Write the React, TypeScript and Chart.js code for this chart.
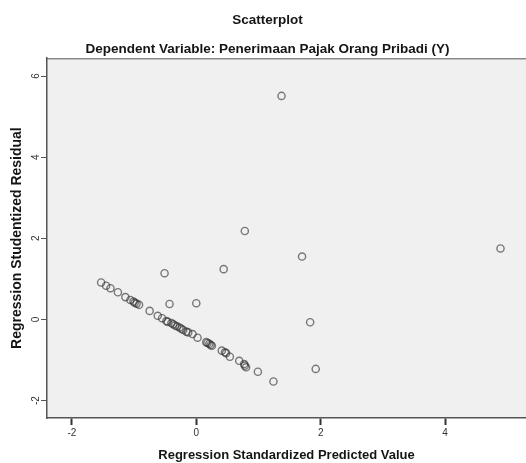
import { useEffect, useRef } from "react";
import { Chart, registerables } from "chart.js";

Chart.register(...registerables);

// Points lying along the diagonal band
const bandPredicted = [-1.53, -1.45, -1.38, -1.26, -1.14, -1.06, -1.01, -0.99, -0.96, -0.92, -0.75, -0.62, -0.55, -0.48, -0.46, -0.40, -0.37, -0.34, -0.31, -0.27, -0.24, -0.21, -0.16, -0.13, -0.06, 0.02, 0.16, 0.18, 0.21, 0.23, 0.25, 0.41, 0.46, 0.48, 0.54, 0.69, 0.77, 0.78, 0.80, 0.99, 1.24];
const bandResidual = [0.91, 0.83, 0.77, 0.67, 0.55, 0.48, 0.44, 0.41, 0.39, 0.36, 0.21, 0.09, 0.03, -0.04, -0.06, -0.09, -0.12, -0.15, -0.17, -0.20, -0.23, -0.26, -0.30, -0.32, -0.36, -0.45, -0.56, -0.58, -0.60, -0.63, -0.65, -0.77, -0.81, -0.83, -0.92, -1.02, -1.10, -1.14, -1.18, -1.29, -1.53];

// Scattered points off the band
const otherPredicted = [1.37, 0.78, 1.70, 0.44, -0.51, -0.43, 0.00, 1.83, 1.92, 4.89];
const otherResidual = [5.51, 2.18, 1.55, 1.24, 1.14, 0.38, 0.40, -0.07, -1.22, 1.75];

const xTickValues = [-2, 0, 2, 4];
const yTickValues = [-2, 0, 2, 4, 6];

const titleText = "Scatterplot";
const subtitleText = "Dependent Variable: Penerimaan Pajak Orang Pribadi (Y)";
const xTitleText = "Regression Standardized Predicted Value";
const yTitleText = "Regression Studentized Residual";

const FONT = "'Liberation Sans', Arial, sans-serif";

const plotBackground = {
  id: "plotBackground",
  beforeDraw(chart: any) {
    const { ctx, chartArea: a } = chart;
    ctx.save();
    ctx.fillStyle = "#f0f0f0";
    ctx.fillRect(a.left, a.top, a.right - a.left, a.bottom - a.top);
    ctx.strokeStyle = "#8a8a8a";
    ctx.lineWidth = 1.5;
    ctx.beginPath();
    ctx.moveTo(a.left, a.top + 0.5);
    ctx.lineTo(a.right, a.top + 0.5);
    ctx.stroke();
    ctx.restore();
  },
};

export default function App() {
  const canvasRef = useRef<HTMLCanvasElement | null>(null);

  useEffect(() => {
    if (!canvasRef.current) return;
    const points = [
      ...bandPredicted.map((x, i) => ({ x, y: bandResidual[i] })),
      ...otherPredicted.map((x, i) => ({ x, y: otherResidual[i] })),
    ];
    const chart = new Chart(canvasRef.current, {
      type: "scatter",
      data: {
        datasets: [
          {
            data: points,
            pointStyle: "circle",
            pointRadius: 3.6,
            pointBorderWidth: 1.4,
            pointBackgroundColor: "rgba(0,0,0,0)",
            pointBorderColor: "rgba(45,45,45,0.62)",
          },
        ],
      },
      options: {
        responsive: false,
        animation: false,
        devicePixelRatio: 1,
        layout: { autoPadding: false, padding: { left: 9, right: 0, top: 0, bottom: 0 } },
        plugins: {
          legend: { display: false },
          tooltip: { enabled: false },
          title: {
            display: true,
            text: titleText,
            color: "#151515",
            font: { family: FONT, size: 13.5, weight: "bold" },
            padding: { top: 11.8, bottom: 13.4 },
          },
          subtitle: {
            display: true,
            text: subtitleText,
            color: "#151515",
            font: { family: FONT, size: 13.5, weight: "bold" },
            padding: { top: 0, bottom: 0.6 },
          },
        },
        scales: {
          x: {
            type: "linear",
            min: -2.4,
            max: 5.3,
            afterBuildTicks: (s: any) => {
              s.ticks = xTickValues.map((v) => ({ value: v }));
            },
            afterFit: (s: any) => {
              s.height = 45;
              s.paddingLeft = 0;
              s.paddingRight = 0;
            },
            grid: {
              drawOnChartArea: false,
              drawTicks: true,
              tickLength: 7,
              tickWidth: 2,
              tickColor: "#333",
            },
            border: { display: true, color: "#555", width: 1.5 },
            ticks: {
              autoSkip: false,
              maxRotation: 0,
              padding: 2,
              color: "#333",
              font: { family: FONT, size: 10 },
            },
            title: {
              display: true,
              text: xTitleText,
              color: "#151515",
              font: { family: FONT, size: 13, weight: "bold" },
              padding: { top: 0, bottom: 0 },
            },
          },
          y: {
            type: "linear",
            min: -2.43,
            max: 6.44,
            afterBuildTicks: (s: any) => {
              s.ticks = yTickValues.map((v) => ({ value: v }));
            },
            afterFit: (s: any) => {
              s.width = 38;
              s.paddingTop = 0;
              s.paddingBottom = 0;
            },
            grid: {
              drawOnChartArea: false,
              drawTicks: true,
              tickLength: 6,
              tickWidth: 1,
              tickColor: "#555",
            },
            border: { display: true, color: "#555", width: 1.5 },
            ticks: {
              autoSkip: false,
              minRotation: 90,
              maxRotation: 90,
              crossAlign: "center",
              padding: 0,
              color: "#333",
              font: { family: FONT, size: 10 },
            },
            title: {
              display: true,
              text: yTitleText,
              color: "#151515",
              font: { family: FONT, size: 14, weight: "bold" },
              padding: { top: 0, bottom: 0 },
            },
          },
        },
      } as any,
      plugins: [plotBackground],
    });
    return () => chart.destroy();
  }, []);

  return (
    <div style={{ position: "fixed", left: 0, top: 0, width: 526, height: 463, background: "#fff" }}>
      <canvas ref={canvasRef} width={526} height={463} style={{ display: "block" }} />
    </div>
  );
}
